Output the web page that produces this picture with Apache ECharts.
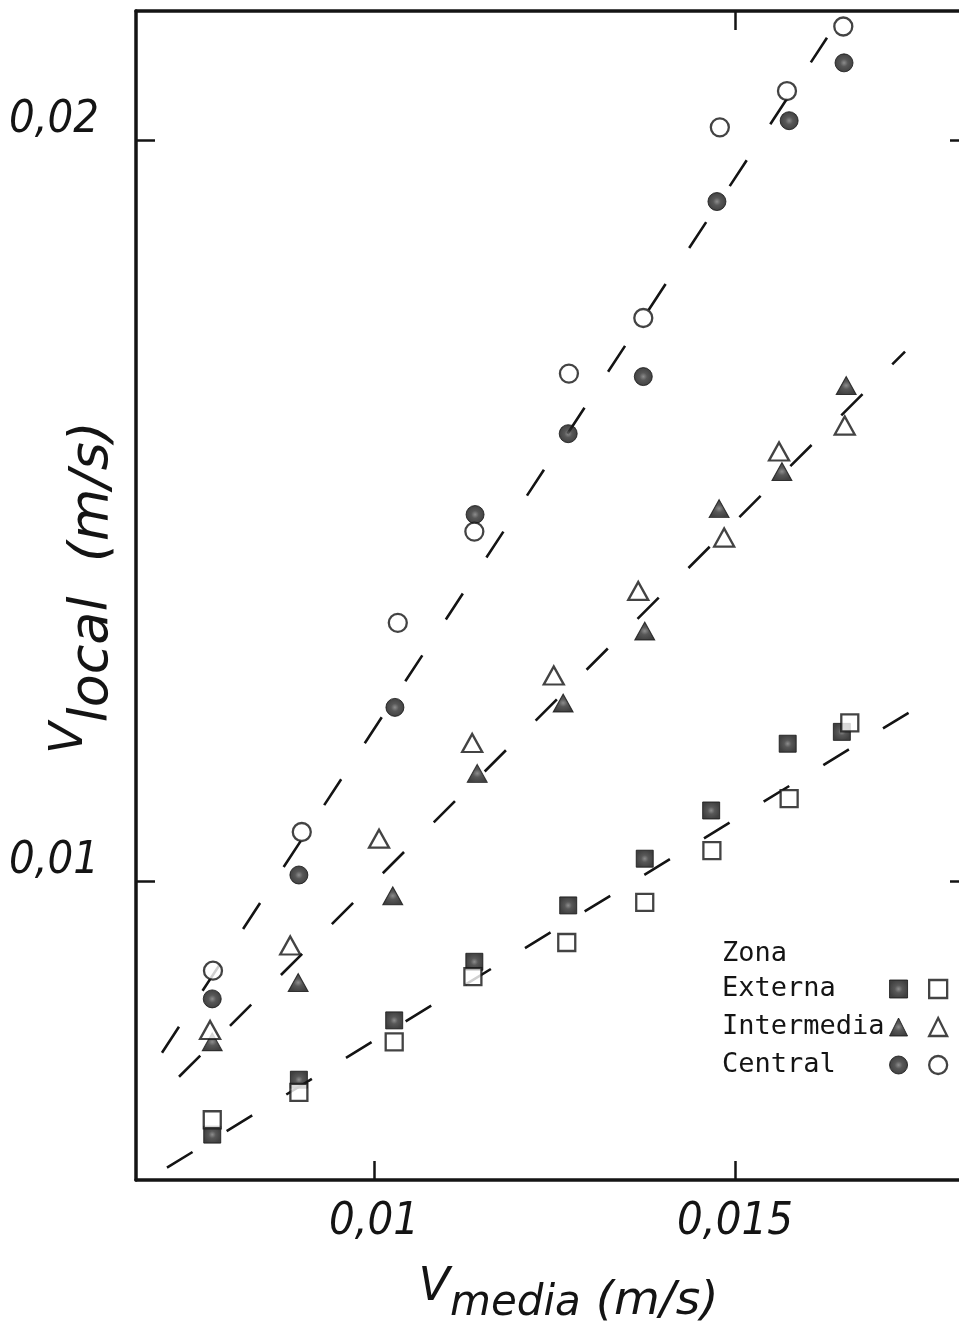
<!DOCTYPE html>
<html>
<head>
<meta charset="utf-8">
<script src="https://cdn.jsdelivr.net/npm/echarts@6/dist/echarts.min.js"></script>
<style>
  html, body { margin: 0; padding: 0; background: #fff; }
  #chart { width: 959px; height: 1328px; }
</style>
</head>
<body>
<div id="chart"></div>
<script>
// Local velocity vs mean velocity for three zones (m/s)
const xTicks = [0.01, 0.015];
const yTicks = [0.01, 0.02];
const xRange = [0.006704, 0.018241];
const yRange = [0.005978, 0.021739];

// Zona central
const centralOpenX   = [0.00777, 0.00900, 0.01033, 0.01139, 0.01270, 0.01373, 0.01479, 0.01572, 0.01650];
const centralOpenY   = [0.00880, 0.01067, 0.01349, 0.01472, 0.01685, 0.01760, 0.02017, 0.02066, 0.02153];
const centralFullX   = [0.00776, 0.00896, 0.01029, 0.01140, 0.01269, 0.01373, 0.01475, 0.01575, 0.01651];
const centralFullY   = [0.00842, 0.01009, 0.01235, 0.01495, 0.01604, 0.01681, 0.01917, 0.02026, 0.02104];
// Zona intermedia
const intermOpenX    = [0.00773, 0.00884, 0.01007, 0.01136, 0.01249, 0.01366, 0.01485, 0.01561, 0.01652];
const intermOpenY    = [0.00800, 0.00914, 0.01058, 0.01187, 0.01278, 0.01392, 0.01464, 0.01580, 0.01615];
const intermFullX    = [0.00776, 0.00895, 0.01026, 0.01143, 0.01262, 0.01375, 0.01478, 0.01565, 0.01654];
const intermFullY    = [0.00784, 0.00864, 0.00981, 0.01146, 0.01241, 0.01338, 0.01503, 0.01553, 0.01669];
// Zona externa
const externaOpenX   = [0.00776, 0.00896, 0.01028, 0.01137, 0.01267, 0.01375, 0.01468, 0.01575, 0.01659];
const externaOpenY   = [0.00679, 0.00716, 0.00784, 0.00872, 0.00918, 0.00972, 0.01042, 0.01112, 0.01214];
const externaFullX   = [0.00776, 0.00896, 0.01028, 0.01139, 0.01269, 0.01375, 0.01467, 0.01573, 0.01648];
const externaFullY   = [0.00659, 0.00733, 0.00813, 0.00892, 0.00968, 0.01031, 0.01096, 0.01186, 0.01202];

// Fitted lines (start, end)
const fitCentral = [[0.007064, 0.007694], [0.016274, 0.021379]];
const fitInterm  = [[0.007300, 0.007370], [0.017355, 0.017146]];
const fitExterna = [[0.007133, 0.006144], [0.017700, 0.012454]];

const legendLabels = ['Externa', 'Intermedia', 'Central'];

const INK = '#141414';
const zip = (xs, ys) => xs.map((x, i) => [x, ys[i]]);
const comma = v => String(v).replace('.', ',');

const filledFill = () => new echarts.graphic.RadialGradient(0.5, 0.5, 0.5, [
  { offset: 0, color: '#707070' },
  { offset: 0.4, color: '#2e2e2e' },
  { offset: 1, color: '#101010' }
]);
const filledStyle = () => ({ color: filledFill(), borderColor: INK, borderWidth: 1 });
const openStyle = { color: '#ffffff', borderColor: INK, borderWidth: 2.3 };

const scatter = (name, data, symbol, size, style) => ({
  name, type: 'scatter', data, symbol, symbolSize: size,
  itemStyle: style, z: 3, silent: true
});
const fit = (data, dash) => ({
  type: 'line', data, symbol: 'none', silent: true, z: 2,
  lineStyle: { color: INK, width: 2.6, type: dash }
});

const tickFont = '"DejaVu Sans Condensed", "DejaVu Sans", sans-serif';
const nameFont = '"DejaVu Sans", sans-serif';
const monoFont = '"DejaVu Sans Mono", monospace';

const chart = echarts.init(document.getElementById('chart'), null, { renderer: 'canvas' });
chart.setOption({
  backgroundColor: '#ffffff',
  animation: false,
  grid: { left: 136, right: -10, top: 11, bottom: 148, containLabel: false, outerBoundsMode: 'none' },
  title: {
    text: 'Zona', left: 722, top: 940, padding: 0,
    textStyle: { fontFamily: monoFont, fontSize: 27, fontWeight: 'normal', color: INK }
  },
  legend: [
    {
      data: legendLabels.map(n => ({ name: n, itemStyle: filledStyle() })),
      orient: 'vertical', align: 'right', left: 722, top: 974, padding: 0,
      itemWidth: 18, itemHeight: 18, itemGap: 8, selectedMode: false,
      formatter: n => n.padEnd(10, ' '),
      textStyle: { fontFamily: monoFont, fontSize: 27, lineHeight: 30, color: INK, padding: 0 }
    },
    {
      data: legendLabels.map(n => ({ name: n + ' (abierto)', itemStyle: openStyle })),
      orient: 'vertical', align: 'left', left: 928, top: 974, padding: 0,
      itemWidth: 18, itemHeight: 18, itemGap: 8, selectedMode: false,
      formatter: () => ' ',
      textStyle: { fontFamily: monoFont, fontSize: 27, lineHeight: 30, color: INK }
    }
  ],
  xAxis: [
    {
      type: 'value', position: 'bottom', min: xRange[0], max: xRange[1],
      axisLine: { show: true, lineStyle: { color: INK, width: 3.5 } },
      axisTick: { show: true, inside: true, length: 19, customValues: xTicks, lineStyle: { color: INK, width: 2.5 } },
      axisLabel: {
        customValues: xTicks, formatter: comma, margin: 20, color: INK,
        fontFamily: tickFont, fontStyle: 'italic', fontSize: 45
      },
      splitLine: { show: false },
      name: '{v|V}{s|media}{u| (m/s)}',
      nameLocation: 'middle', nameGap: 85, nameMoveOverlap: false,
      nameTextStyle: {
        padding: [0, 0, 0, 32],
        rich: {
          v: { fontFamily: nameFont, fontStyle: 'italic', fontSize: 46, color: INK, verticalAlign: 'top', lineHeight: 60 },
          s: { fontFamily: nameFont, fontStyle: 'italic', fontSize: 42, color: INK, verticalAlign: 'bottom', lineHeight: 44 },
          u: { fontFamily: nameFont, fontStyle: 'italic', fontSize: 47, color: INK, verticalAlign: 'bottom', lineHeight: 50 }
        }
      }
    },
    {
      type: 'value', position: 'top', min: xRange[0], max: xRange[1],
      axisLine: { show: true, lineStyle: { color: INK, width: 3.5 } },
      axisTick: { show: true, inside: true, length: 19, customValues: [0.015], lineStyle: { color: INK, width: 2.5 } },
      axisLabel: { show: false },
      splitLine: { show: false }
    }
  ],
  yAxis: [
    {
      type: 'value', position: 'left', min: yRange[0], max: yRange[1],
      axisLine: { show: true, lineStyle: { color: INK, width: 3.5 } },
      axisTick: { show: true, inside: true, length: 19, customValues: yTicks, lineStyle: { color: INK, width: 2.5 } },
      axisLabel: {
        customValues: yTicks, formatter: comma, margin: 37, color: INK,
        fontFamily: tickFont, fontStyle: 'italic', fontSize: 45,
        verticalAlign: 'bottom', lineHeight: 40
      },
      splitLine: { show: false },
      name: '{v|V}{s|local}{u|  (m/s)}',
      nameLocation: 'middle', nameRotate: 90, nameGap: 16, nameMoveOverlap: false,
      nameTextStyle: {
        padding: [0, 0, 0, 16],
        rich: {
          v: { fontFamily: nameFont, fontStyle: 'italic', fontSize: 46, color: INK, verticalAlign: 'top', lineHeight: 73 },
          s: { fontFamily: nameFont, fontStyle: 'italic', fontSize: 54, color: INK, verticalAlign: 'bottom', lineHeight: 56 },
          u: { fontFamily: nameFont, fontStyle: 'italic', fontSize: 54, color: INK, verticalAlign: 'bottom', lineHeight: 56 }
        }
      }
    },
    {
      type: 'value', position: 'right', min: yRange[0], max: yRange[1],
      axisLine: { show: true, lineStyle: { color: INK, width: 3.5 } },
      axisTick: { show: true, inside: true, length: 19, customValues: yTicks, lineStyle: { color: INK, width: 2.5 } },
      axisLabel: { show: false },
      splitLine: { show: false }
    }
  ],
  series: [
    fit(fitCentral, [31, 43]),
    fit(fitInterm, [30, 42]),
    fit(fitExterna, [30, 40]),
    scatter('Externa', zip(externaFullX, externaFullY), 'rect', 17, filledStyle()),
    scatter('Externa (abierto)', zip(externaOpenX, externaOpenY), 'rect', 17, openStyle),
    scatter('Intermedia', zip(intermFullX, intermFullY), 'triangle', [20, 18], filledStyle()),
    scatter('Intermedia (abierto)', zip(intermOpenX, intermOpenY), 'triangle', [20, 18], openStyle),
    scatter('Central', zip(centralFullX, centralFullY), 'circle', 18, filledStyle()),
    scatter('Central (abierto)', zip(centralOpenX, centralOpenY), 'circle', 18, openStyle)
  ]
});
</script>
</body>
</html>
